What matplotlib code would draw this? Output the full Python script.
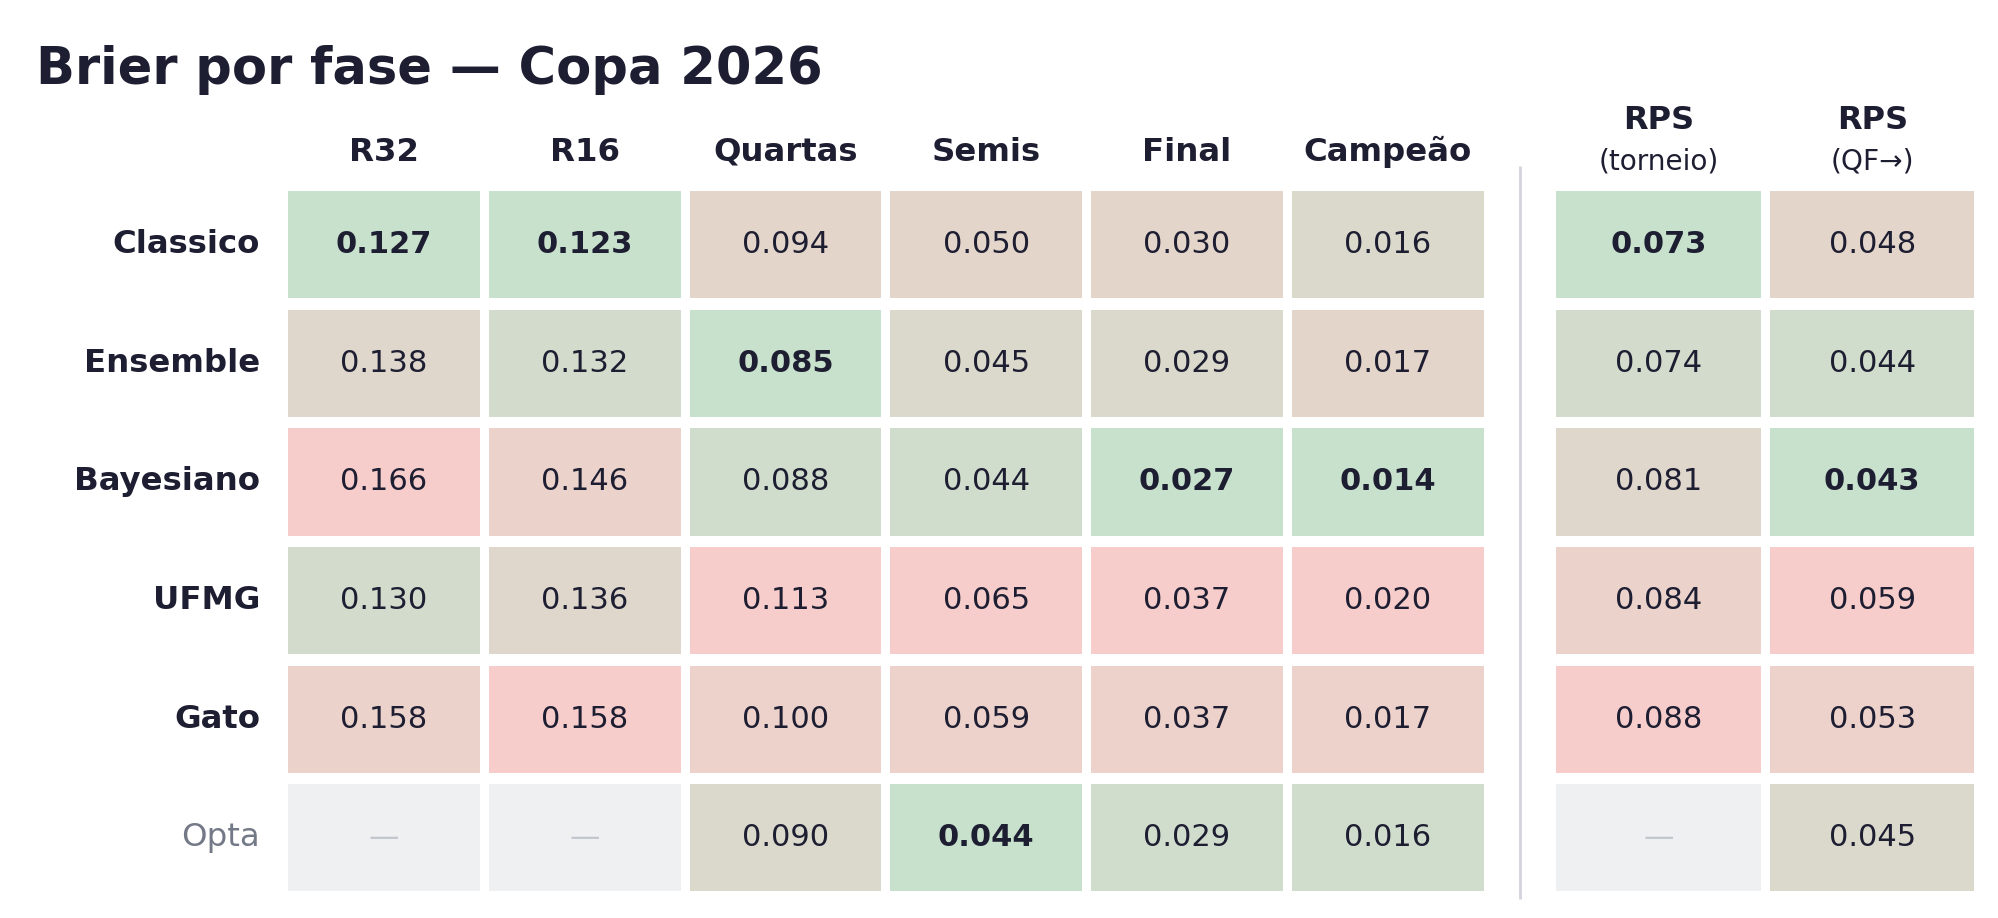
import numpy as np
import matplotlib
matplotlib.use("Agg")
from matplotlib import pyplot as plt
from matplotlib.patches import Rectangle
from matplotlib.colors import to_rgb

# data
models = ["Classico", "Ensemble", "Bayesiano", "UFMG", "Gato", "Opta"]
phases = ["R32", "R16", "Quartas", "Semis", "Final", "Campeão"]
nan = np.nan
r32 = [0.127, 0.138, 0.166, 0.130, 0.158, nan]
r16 = [0.123, 0.132, 0.146, 0.136, 0.158, nan]
quartas = [0.094, 0.085, 0.088, 0.113, 0.100, 0.090]
semis = [0.050, 0.045, 0.0442, 0.065, 0.059, 0.0437]
final = [0.030, 0.0292, 0.027, 0.0372, 0.0368, 0.0288]
campeao = [0.016, 0.0168, 0.014, 0.020, 0.0172, 0.0158]
rps_labels = ["RPS", "RPS"]
rps_sub = ["(torneio)", "(QF→)"]
rps_torneio = [0.073, 0.074, 0.081, 0.084, 0.088, nan]
rps_qf = [0.048, 0.044, 0.043, 0.059, 0.053, 0.045]

brier = [r32, r16, quartas, semis, final, campeao]
rps = [rps_torneio, rps_qf]

INK = "#1e1e32"
GOOD = np.array(to_rgb("#c8e1cc"))
BAD = np.array(to_rgb("#f6cdcb"))
MISSING = "#eff0f2"
DASH = "#c3c7cf"

W, H = 1999, 918
fig = plt.figure(figsize=(W / 100, H / 100), dpi=100)
fig.patch.set_facecolor("white")

fig.text(36 / W, 1 - 70 / H, "Brier por fase — Copa 2026", fontsize=36.8,
         fontweight="bold", color=INK, va="center", ha="left")

grid_top, grid_bot = 185.5, 897.0
row_pitch = (grid_bot - grid_top) / len(models)


def make_axes(left_px, right_px, ncols):
    ax = fig.add_axes([left_px / W, 1 - grid_bot / H,
                       (right_px - left_px) / W, (grid_bot - grid_top) / H])
    ax.set_xlim(-0.5, ncols - 0.5)
    ax.set_ylim(len(models) - 0.5, -0.5)
    ax.axis("off")
    return ax, (right_px - left_px) / ncols


def draw_cells(ax, cols, pitch_x):
    pad_x = 4.5 / pitch_x
    pad_y = 5.7 / row_pitch
    for j, col in enumerate(cols):
        vals = np.array(col, dtype=float)
        ok = ~np.isnan(vals)
        order = np.argsort(np.argsort(np.where(ok, vals, np.inf)))
        n = ok.sum()
        best = np.nanargmin(vals)
        for i, v in enumerate(vals):
            if np.isnan(v):
                face = MISSING
            else:
                t = order[i] / (n - 1)
                face = tuple(GOOD + (BAD - GOOD) * t)
            ax.add_patch(Rectangle((j - 0.5 + pad_x, i - 0.5 + pad_y),
                                   1 - 2 * pad_x, 1 - 2 * pad_y,
                                   facecolor=face, edgecolor="none"))
            if np.isnan(v):
                ax.text(j, i, "—", ha="center", va="center", fontsize=22, color=DASH)
            else:
                ax.text(j, i, f"{v:.3f}", ha="center", va="center", fontsize=22,
                        color=INK, fontweight="bold" if i == best else "normal")


# Brier block
ax1, px1 = make_axes(283.5, 1488, len(phases))
draw_cells(ax1, brier, px1)
for j, name in enumerate(phases):
    ax1.text(j, -0.5 - (grid_top - 152) / row_pitch, name, ha="center", va="center",
             fontsize=23.3, fontweight="bold", color=INK)
label_x = -0.5 - (283.5 - 260) / px1
for i, m in enumerate(models):
    ref = m == "Opta"
    ax1.text(label_x, i, m, ha="right", va="center", fontsize=23.3,
             fontweight="normal" if ref else "bold",
             color="#737987" if ref else INK)

# RPS block
ax2, px2 = make_axes(1552, 1979, len(rps))
draw_cells(ax2, rps, px2)
for j in range(len(rps)):
    ax2.text(j, -0.5 - (grid_top - 120) / row_pitch, rps_labels[j], ha="center",
             va="center", fontsize=23, fontweight="bold", color=INK)
    ax2.text(j, -0.5 - (grid_top - 161) / row_pitch, rps_sub[j], ha="center",
             va="center", fontsize=20.2, color=INK)

sep_x = -0.5 - (1552 - 1520) / px2
ax2.plot([sep_x, sep_x], [-0.5 - (grid_top - 166) / row_pitch, 5.5 + 2 / row_pitch],
         color="#d3d3dd", linewidth=2, clip_on=False, solid_capstyle="butt")

fig.savefig("out.png", dpi=100, facecolor="white")
